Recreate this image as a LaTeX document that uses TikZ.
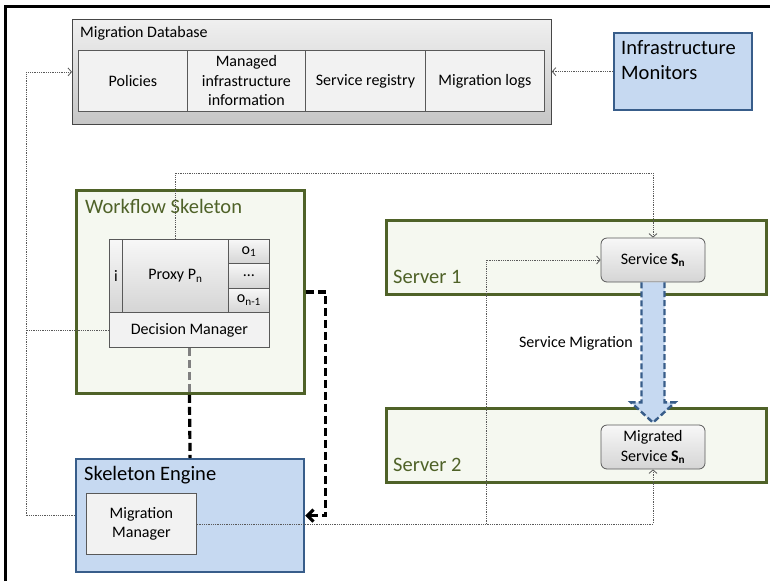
\documentclass[tikz,border=0pt]{standalone}
\usepackage{fontspec}
\setmainfont{Carlito}
\usepackage{tikz}
\usetikzlibrary{arrows.meta,positioning,calc}
\definecolor{engblue}{RGB}{198,217,241}
\definecolor{engedge}{RGB}{56,93,138}
\definecolor{skgreen}{RGB}{79,98,40}
\definecolor{skfill}{RGB}{245,248,240}
\definecolor{cellfill}{RGB}{242,242,242}
\definecolor{celledge}{RGB}{89,89,89}

\begin{document}
\begin{tikzpicture}[x=1pt,y=-1pt,
		txt/.style={font=\fontsize{16}{19.5}\selectfont},
		title/.style={font=\fontsize{20.5}{25}\selectfont,anchor=west,inner sep=0pt},
		cell/.style={draw=celledge,fill=cellfill,line width=0.8pt,inner sep=0pt,align=center,txt},
		greycell/.style={draw=celledge,top color=gray!6,bottom color=gray!33,line width=0.8pt,inner sep=0pt,align=center,txt},
		bluebox/.style={draw=engedge,fill=engblue,line width=2.2pt,inner sep=0pt},
		greenbox/.style={draw=skgreen,fill=skfill,line width=2.8pt,inner sep=0pt},
		servicebox/.style={greycell,rounded corners=6pt},
		link/.style={densely dotted,line width=0.8pt,black!65},
		linkarrow/.style={link,-{Straight Barb[length=3.5pt,width=8pt]}},
		ctrl/.style={dash pattern=on 8pt off 4pt,line width=3.2pt},
		migedge/.style={draw=engedge,dash pattern=on 6pt off 3pt,line width=2.4pt,fill=engblue}]
	\useasboundingbox (0,0) rectangle (770,581);
	\draw[line width=3pt] (5,581) -- (5,6) -- (770,6);

	\node[draw=gray!55!black,top color=gray!12,bottom color=gray!45,line width=0.8pt,anchor=north west,minimum width=479pt,minimum height=105pt] (db) at (72,19) {};
	\node[txt,anchor=west,inner sep=0pt] (dbt) at (80,33) {Migration Database};
	\foreach \n/\xa/\w/\t in {pol/78/109/Policies,mii/187/118/{Managed\\infrastructure\\information},reg/305/120/Service registry,logs/425/119/Migration logs}
		\node[cell,anchor=north west,minimum width=\w pt,minimum height=61pt] (\n) at (\xa,50) {\t};

	\node[bluebox,anchor=north west,minimum width=138pt,minimum height=77pt] (mon) at (613,32) {};
	\node[title,align=left,anchor=north west] (mont) at (621,40) {Infrastructure\\Monitors};

	\node[greenbox,anchor=north west,minimum width=228pt,minimum height=203pt] (wf) at (75,189) {};
	\node[title,text=skgreen] (wft) at (85,206) {Workflow Skeleton};
	\node[greycell,anchor=north west,minimum width=13pt,minimum height=73pt] (inp) at (109,239) {i};
	\node[greycell,anchor=north west,minimum width=106pt,minimum height=73pt] (proxy) at (122,239) {Proxy P\textsubscript{n}};
	\foreach \n/\ya/\t in {o1/239/{o\textsubscript{1}},odots/263.33/{\ldots},on/287.67/{o\textsubscript{n-1}}}
		\node[greycell,anchor=north west,minimum width=41pt,minimum height=24.33pt] (\n) at (228,\ya) {\t};
	\node[cell,anchor=north west,minimum width=160pt,minimum height=35pt] (dm) at (109,312) {Decision Manager};

	\foreach \n/\ya in {srv1/219,srv2/407}
		\node[greenbox,anchor=north west,minimum width=380pt,minimum height=74pt] (\n) at (385,\ya) {};
	\node[title,text=skgreen] (srv1t) at (393,277) {Server 1};
	\node[title,text=skgreen] (srv2t) at (393,465) {Server 2};
	\node[servicebox,minimum width=104pt,minimum height=44pt] (svc) at (653,260) {Service \textbf{S}\textsubscript{\textbf{n}}};
	\node[servicebox,minimum width=104pt,minimum height=44pt] (msvc) at (653,447) {Migrated\\Service \textbf{S}\textsubscript{\textbf{n}}};

	\node[bluebox,anchor=north west,minimum width=228pt,minimum height=113pt] (eng) at (75,458) {};
	\node[title] (engt) at (84,475) {Skeleton Engine};
	\node[cell,anchor=north west,minimum width=110pt,minimum height=61pt] (mm) at (86,493) {Migration\\Manager};

	\draw[migedge] ($(svc.south)+(-11.5,0)$) -- ($(svc.south)+(-11.5,120)$) -- ($(svc.south)+(-22,120)$) -- ($(msvc.north)+(0,-2)$) -- ($(svc.south)+(22,120)$) -- ($(svc.south)+(11.5,120)$) -- ($(svc.south)+(11.5,0)$);
	\node[txt,anchor=east,inner sep=0pt] (miglab) at (633,343) {Service Migration};

	\coordinate (bus) at (26,0);
	\coordinate (split) at (486,0);
	\draw[linkarrow] (mon.west) -- (mon.west -| db.east);
	\draw[linkarrow] (eng.west) -- (eng.west -| bus) -- (db.west -| bus) -- (db.west);
	\draw[link] (dm.west) -- (dm.west -| bus);
	\draw[linkarrow] (proxy.north) -- ++(0,-66) -| (svc.north);
	\draw[linkarrow] (mm.east) -- (mm.east -| msvc.south) -- (msvc.south);
	\draw[linkarrow] (mm.east -| split) -- (svc.west -| split) -- (svc.west);

	\draw[ctrl,-{Straight Barb[length=6pt,width=12pt]}] (wf.east) -- ++(20,0) |- (eng.east);
	\draw[ctrl,gray] (dm.south) -- (dm.south |- wf.south);
	\draw[ctrl] (dm.south |- wf.south) -- (eng.north);
\end{tikzpicture}
\end{document}
